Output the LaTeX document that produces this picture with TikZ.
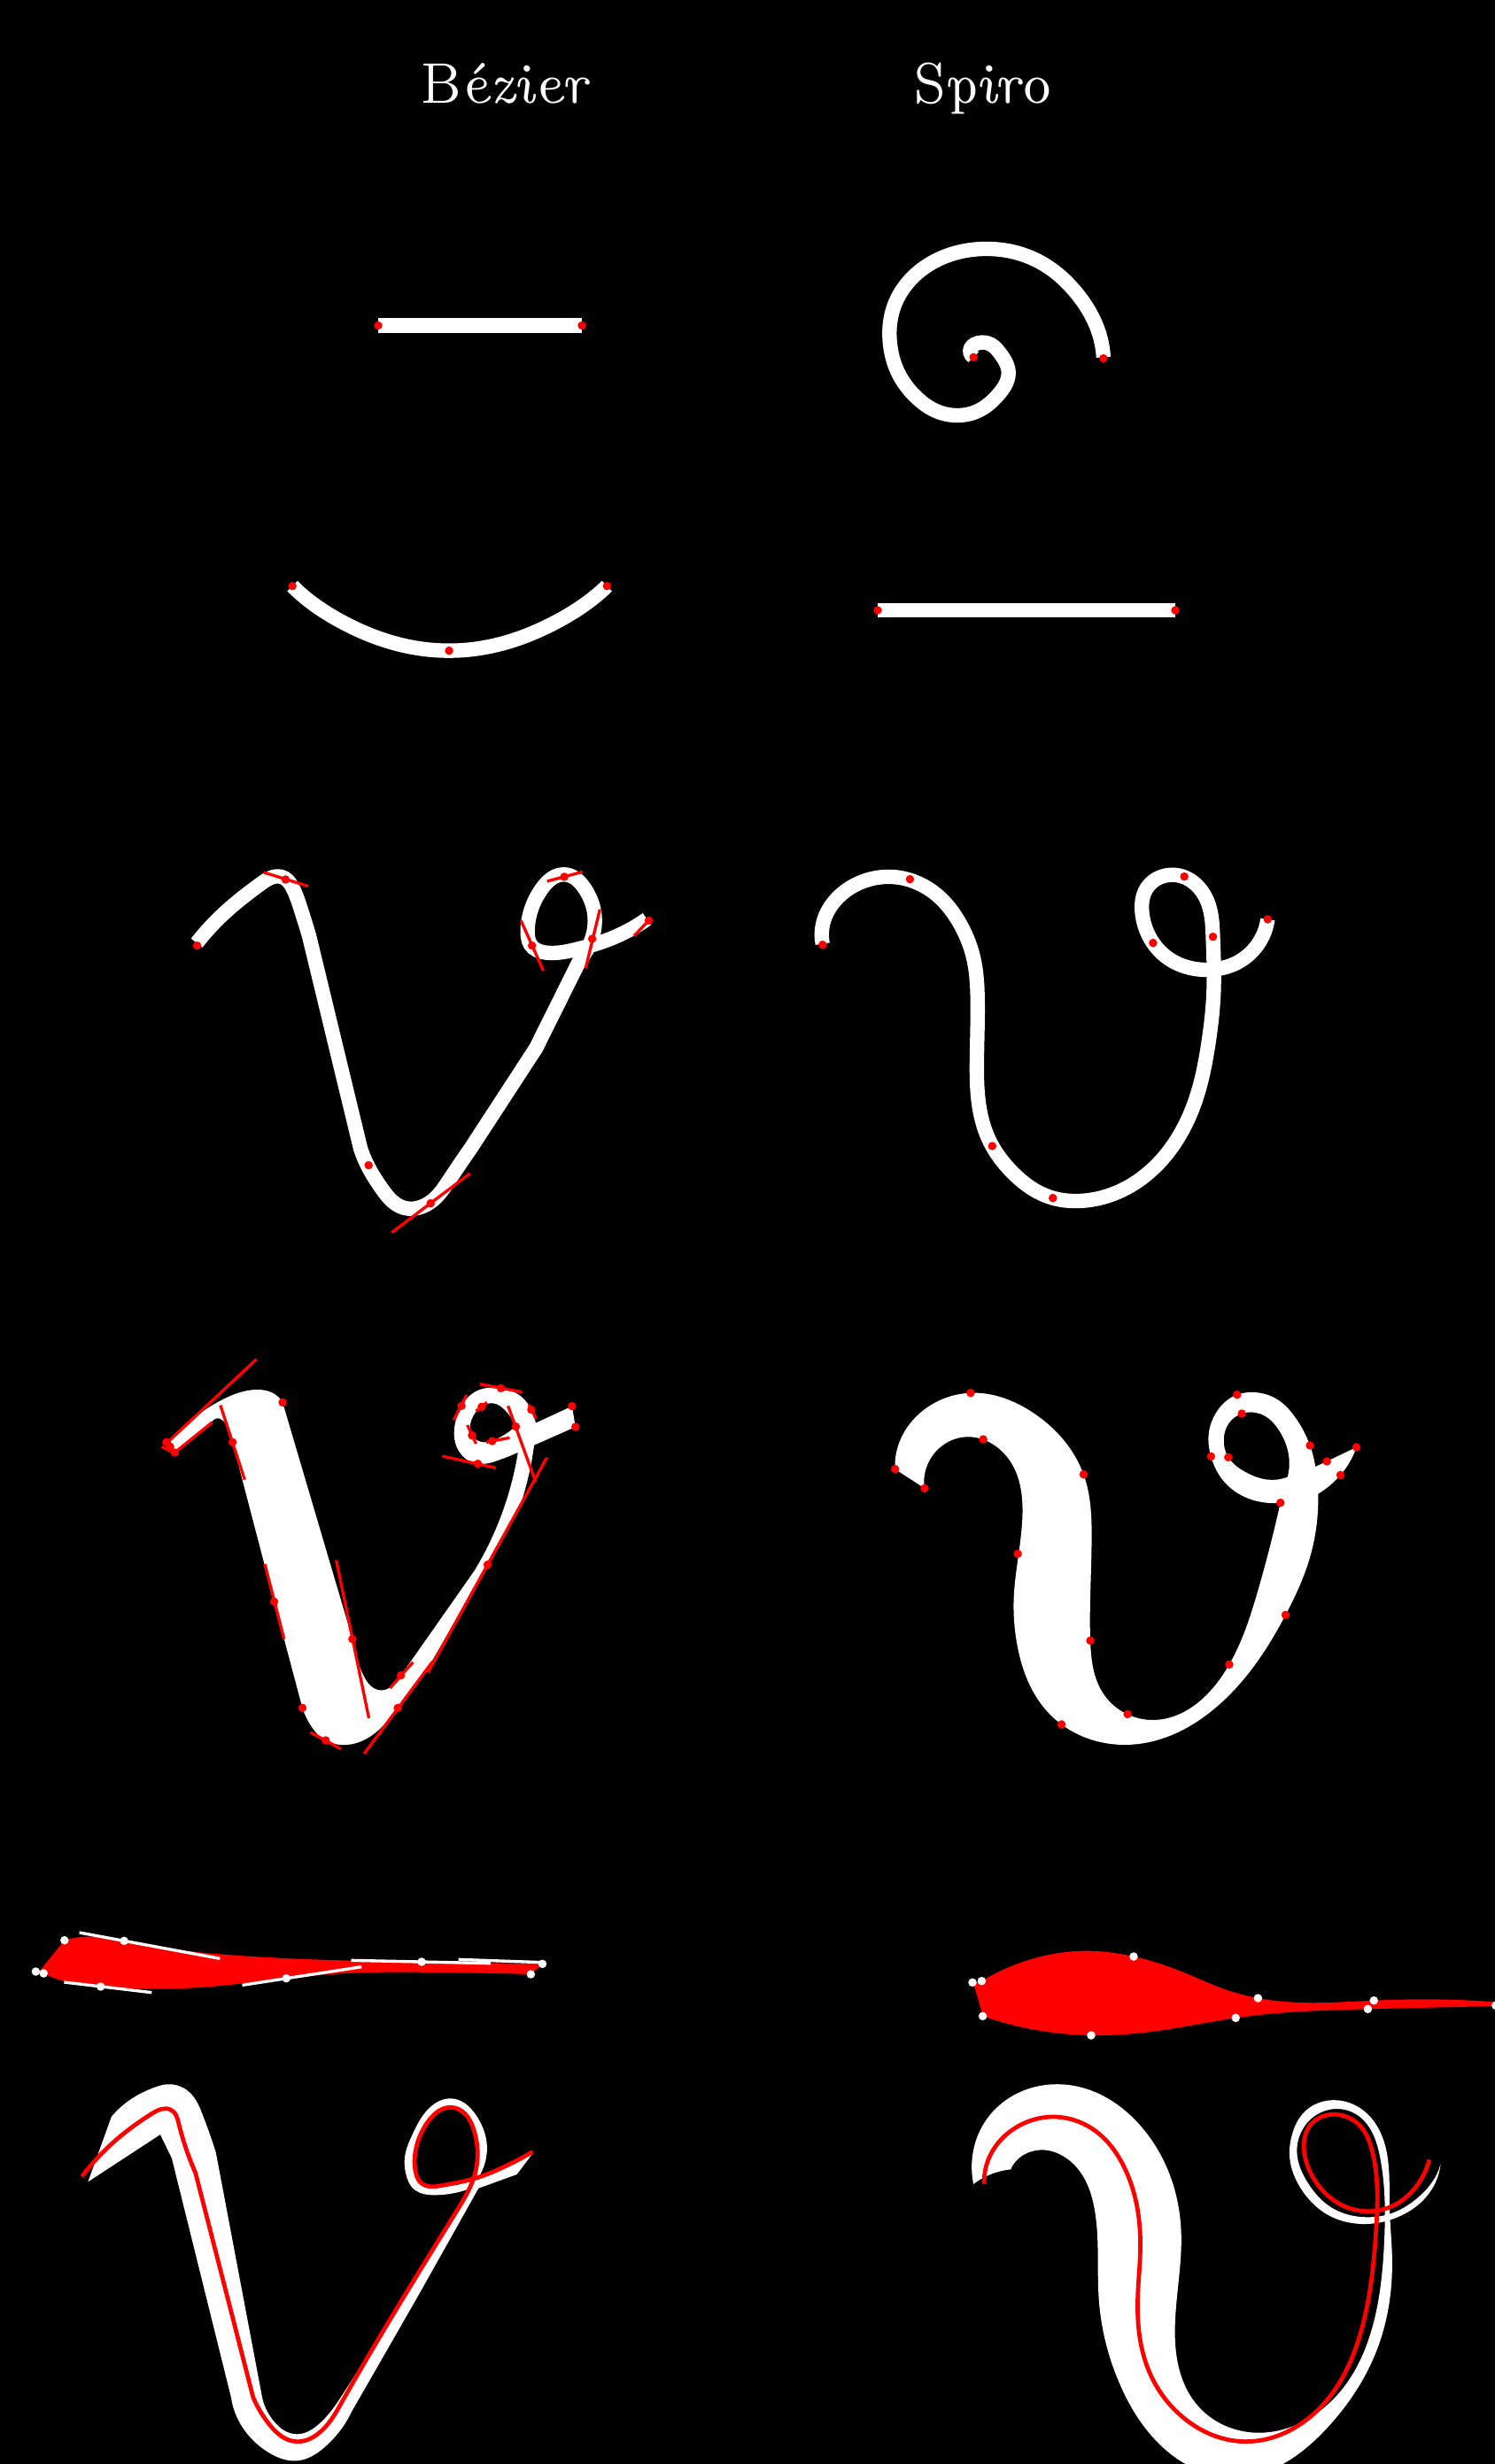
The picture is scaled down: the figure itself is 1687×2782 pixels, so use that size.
\documentclass[tikz,border=0pt]{standalone}
\usepackage{tikz}
\usetikzlibrary{hobby}
\tikzset{
  inkline/.style={draw=white, line width=4.64pt, use Hobby shortcut},
  inkfill/.style={fill=white, even odd rule, use Hobby shortcut},
  knot/.style={circle, fill=red, inner sep=0pt, minimum size=0.095cm},
  whiteknot/.style={circle, fill=white, inner sep=0pt, minimum size=0.095cm},
  handle/.style={draw=red, line width=0.95pt},
  whitehandle/.style={draw=white, line width=0.95pt},
  spine/.style={draw=red, line width=1.35pt, use Hobby shortcut},
  heading/.style={text=white, anchor=base, inner sep=0pt, font=\fontsize{18.4}{22}\fontshape{ui}\selectfont},
}
\begin{document}
\begin{tikzpicture}[x=0.01cm, y=-0.01cm]
    \useasboundingbox (0,0) rectangle (1687,2782);
    \fill[black] (-5,-5) rectangle (1692,2787);

    % headings
    \node[heading] (bezierhead) at (571,117) {B\'ezier};
    \node[heading] (spirohead) at (1110,117) {Spiro};

    % first row: bar and spiral
    \draw[inkline] (427,367.5) -- (657,367.5);
    \foreach \p [count=\i] in {(427,367.5),(657,367.5)}
        \node[knot] (barA\i) at \p {};
    \begin{scope}[shift={(300,40)}, xscale=0.6378, yscale=0.3333]
        \draw[inkline] (1483,1090) .. (1420,840) .. (1278,723) .. (1140,830) .. (1105,1040) .. (1160,1240) .. (1228,1287) .. (1288,1235) .. (1315,1140) .. (1295,1065) .. (1268,1040) .. (1248,1060) .. (1253,1090);
        \foreach \p [count=\i] in {(1483,1094),(1253,1090)}
            \node[knot] (spiral\i) at \p {};
    \end{scope}

    % second row: arc and bar
    \begin{scope}[shift={(300,600)}, xscale=0.7018, yscale=0.3333]
        \draw[inkline] (43,185) .. (140,325) .. (295,404) .. (450,325) .. (549,185);
        \foreach \p [count=\i] in {(43,185),(295,404),(549,185)}
            \node[knot] (arc\i) at \p {};
    \end{scope}
    \draw[inkline] (991,689) -- (1327,689);
    \foreach \p [count=\i] in {(991,689),(1327,689)}
        \node[knot] (barB\i) at \p {};

    % third row left: stroke with handles
    \begin{scope}[shift={(150,920)}, xscale=0.4146, yscale=0.3333]
        \draw[inkline] (174,434) .. (265,315) .. (350,232) .. (405,210) .. (432,240) .. (455,310) .. (480,410) -- (620,1130) .. (640,1190) .. (680,1270) .. (750,1334) .. (800,1320) .. (860,1240) .. (920,1130) -- (1098,790) -- (1218,490) .. (1250,420) .. (1255,320) .. (1225,240) .. (1175,202) .. (1120,240) .. (1085,320) .. (1075,400) .. (1090,450) .. (1140,468) .. (1210,455) .. (1290,425) .. (1400,353);
        \foreach \xa/\ya/\xb/\yb in {357/195/478/242,705/1415/918/1215,1057/358/1118/528,1128/225/1225/193,1272/320/1233/520,1365/410/1405/358}
            \draw[handle] (\xa,\ya) -- (\xb,\yb);
        \foreach \p [count=\i] in {(175,443),(416,219),(642,1187),(811,1316),(1251,420),(1087,443),(1175,210),(1405,358)}
            \node[knot] (lineA\i) at \p {};
    \end{scope}

    % third row right: stroke with knots
    \begin{scope}[shift={(850,920)}, xscale=0.4146, yscale=0.3333]
        \draw[inkline] (190,437) .. (250,260) .. (378,210) .. (500,270) .. (560,360) .. (600,480) .. (612,620) .. (610,840) .. (652,1122) .. (710,1215) .. (817,1298) .. (890,1308) .. (980,1285) .. (1080,1210) .. (1160,1090) .. (1210,950) .. (1240,780) .. (1255,600) .. (1253,413) .. (1245,320) .. (1210,240) .. (1153,204) .. (1090,225) .. (1060,330) .. (1090,434) .. (1150,500) .. (1235,525) .. (1320,500) .. (1380,430) .. (1402,354);
        \foreach \p [count=\i] in {(190,440),(428,218),(652,1122),(817,1298),(1253,413),(1090,434),(1175,209),(1402,354)}
            \node[knot] (lineB\i) at \p {};
    \end{scope}

    % fourth row left: outline with handles
    \begin{scope}[shift={(150,1500)}, xscale=0.3507, yscale=0.3333]
        \fill[inkfill] (120,378) .. (200,300) .. (290,240) .. (400,207) .. (450,218) .. (482,250) -- (707,1052) .. (740,1170) .. (795,1225) .. (830,1215) .. (863,1175) .. (900,1120) -- (1100,820) .. (1180,650) .. (1220,520) .. (1240,420)
            -- (1240,420) .. (1180,445) .. (1110,458) .. (1060,430) .. (1035,370) .. (1040,310) .. (1058,262) .. (1110,210) .. (1185,202) .. (1250,230) .. (1283,275) .. (1297,320)
            -- (1414,263) -- (1425,333) -- (1292,395)
            .. (1280,470) .. (1250,590) -- (1142,800) -- (950,1150) .. (853,1285) .. (780,1370) .. (690,1410) .. (621,1395) .. (570,1340) .. (546,1285) -- (455,925) -- (321,385) .. (300,325) .. (280,305) .. (255,315) -- (135,420) -- cycle
            (1232,332) .. (1169,375) .. (1130,385) .. (1092,363) .. (1090,310) .. (1121,265) .. (1160,253) .. (1197,275) .. (1232,332) -- cycle;
        \foreach \xa/\ya/\xb/\yb in {115/382/398/104,93/400/135/422,135/420/255/318,282/260/360/512,425/798/487/1052,655/785/760/1320,572/1368/670/1424,745/1440/965/1128,828/1218/902/1130,950/1165/1333/437,1208/262/1297/520,1117/188/1252/215,1033/310/1075/225,1105/280/1140/250,1077/327/1105/390,1137/385/1213/370,996/432/1168/472,1275/258/1298/305}
            \draw[handle] (\xa,\ya) -- (\xb,\yb);
        \foreach \p [count=\i] in {(108,385),(120,400),(135,420),(482,250),(321,385),(455,925),(546,1285),(621,1395),(707,1052),(863,1175),(853,1285),(1142,800),(1233,332),(1058,262),(1123,265),(1185,202),(1283,275),(1092,362),(1157,381),(1111,458),(1414,263),(1425,333)}
            \node[knot] (shapeA\i) at \p {};
    \end{scope}

    % fourth row right: outline with knots
    \begin{scope}[shift={(980,1530)}, xscale=0.3827, yscale=0.3333]
        \fill[inkfill] (80,386) .. (160,190) .. (303,128) .. (480,190) .. (636,404) .. (660,620) .. (656,967) .. (710,1170) .. (840,1236) .. (1000,1150) .. (1066,1048) .. (1150,800) .. (1217,500)
            -- (1217,500) .. (1060,440) .. (1012,343) .. (1005,270) .. (1030,190) .. (1089,134) .. (1140,126) .. (1200,145) .. (1260,210) .. (1304,306) .. (1320,378)
            -- (1354,360) -- (1441,312)
            .. (1394,406) .. (1328,470) -- (1328,470)
            .. (1300,700) .. (1232,880) .. (1040,1180) .. (760,1320) .. (571,1251) .. (440,980) .. (430,830) .. (456,520) .. (390,320) .. (290,277) .. (180,360) .. (167,451) -- cycle
            (1238,413) .. (1180,422) .. (1120,400) .. (1063,346) .. (1050,280) .. (1065,230) .. (1103,198) .. (1160,200) .. (1210,250) .. (1240,330) .. (1238,413) -- cycle;
        \foreach \p [count=\i] in {(80,386),(167,451),(303,128),(340,285),(636,404),(442,673),(656,967),(571,1251),(766,1216),(1066,1048),(1232,880),(1217,500),(1012,343),(1063,346),(1089,134),(1103,198),(1304,306),(1354,360),(1441,312),(1394,406)}
            \node[knot] (shapeB\i) at \p {};
    \end{scope}

    % fifth row left: red band with white handles
    \begin{scope}[shift={(0,2150)}, xscale=0.4209, yscale=0.3333]
        \fill[red, use Hobby shortcut] (105,228) -- (173,122) .. (230,110) .. (333,124) .. (450,150) .. (600,170) .. (800,185) .. (1130,195) .. (1455,202)
            -- (1424,237) .. (1100,230) .. (960,232) .. (768,251) .. (600,275) .. (400,287) .. (270,279) .. (170,260) .. (117,234) -- cycle;
        \foreach \xa/\ya/\xb/\yb in {213/96/590/184,172/264/407/299,650/274/970/212,942/190/1316/200,1230/187/1455/197}
            \draw[whitehandle] (\xa,\ya) -- (\xb,\yb);
        \foreach \p [count=\i] in {(96,228),(117,234),(173,122),(333,124),(270,279),(768,251),(1131,195),(1455,202),(1424,237)}
            \node[whiteknot] (bandA\i) at \p {};
    \end{scope}

    % fifth row right: red band with white knots
    \begin{scope}[shift={(1060,2170)}, xscale=0.4, yscale=0.3333]
        \fill[red, use Hobby shortcut] (97,205) -- (121,200) .. (250,130) .. (410,98) .. (550,117) .. (700,175) .. (800,225) .. (901,258) .. (1000,272) .. (1228,266) .. (1350,262) .. (1580,272)
            -- (1580,285) .. (1211,295) .. (1000,305) .. (838,325) .. (640,365) .. (430,384) .. (270,365) .. (125,319) -- cycle;
        \foreach \p [count=\i] in {(95,205),(121,200),(124,319),(430,384),(550,117),(838,325),(901,258),(1211,295),(1228,266),(1572,283)}
            \node[whiteknot] (bandB\i) at \p {};
    \end{scope}

    % sixth row left: outline with red spine
    \begin{scope}[shift={(60,2330)}, xscale=0.3827, yscale=0.3333]
        \fill[inkfill] (103,400) -- (172,180) .. (230,120) .. (300,80) .. (335,70) .. (395,90) .. (440,170) .. (480,300) -- (615,1120) .. (650,1210) .. (720,1255) .. (780,1225) .. (860,1110) .. (1225,425)
            -- (1225,425) .. (1130,445) .. (1070,430) .. (1040,370) .. (1037,320) .. (1060,240) .. (1110,150) .. (1175,118) .. (1245,170) .. (1280,280) .. (1270,350) .. (1258,380)
            -- (1330,345) -- (1414,305) -- (1368,375) -- (1255,422)
            -- (1075,790) -- (880,1180) .. (800,1300) .. (720,1345) .. (640,1320) .. (570,1250) .. (525,1130) -- (350,320) -- (316,240) -- cycle
            (1175,150) .. (1110,190) .. (1072,280) .. (1070,370) .. (1090,408) .. (1150,415) .. (1225,395) .. (1250,330) .. (1250,260) .. (1225,190) .. (1175,150) -- cycle;
        \draw[spine] (85,382) .. (210,235) .. (290,170) .. (345,155) .. (370,200) .. (420,370) -- (590,1130) .. (640,1225) .. (718,1280) .. (780,1255) .. (850,1150) .. (1190,500) .. (1240,390) .. (1252,320) .. (1240,220) .. (1175,148) .. (1110,190) .. (1072,280) .. (1070,370) .. (1090,408) .. (1150,412) .. (1240,390) .. (1320,355) .. (1415,298);
    \end{scope}

    % sixth row right: outline with red spine
    \begin{scope}[shift={(1080,2330)}, xscale=0.3827, yscale=0.3333]
        \fill[fill=white, use Hobby shortcut] (50,408) .. (45,340) .. (150,120) .. (310,70) .. (550,220) .. (663,580) .. (645,940) .. (740,1190) .. (880,1250) .. (1090,1160) .. (1225,900) .. (1262,600) .. (1250,320) .. (1225,230) .. (1190,180) .. (1125,153) .. (1075,165) .. (1025,215) .. (1005,310) .. (1040,410) .. (1110,490) .. (1210,520) .. (1275,510) .. (1360,455) .. (1418,372) .. (1428,340)
            -- (1428,340) .. (1370,470) .. (1290,525) .. (1210,543) .. (1100,515) .. (1020,430) .. (983,320) .. (990,240) .. (1040,150) .. (1125,124) .. (1190,150) .. (1245,220) .. (1275,350) .. (1278,500) .. (1285,650) .. (1240,970) .. (1080,1250) .. (830,1400) .. (500,1130) .. (420,800) .. (405,480) .. (310,310) .. (265,293) .. (160,358)
            -- (160,358) .. (100,375) .. (50,408) -- cycle;
        \draw[spine] (82,408) .. (170,220) .. (285,180) .. (400,220) .. (490,340) .. (535,500) .. (542,640) .. (535,780) .. (575,1060) .. (660,1190) .. (850,1280) .. (1050,1190) .. (1130,1080) .. (1190,920) .. (1238,560) .. (1225,290) .. (1190,210) .. (1120,172) .. (1055,195) .. (1025,290) .. (1060,400) .. (1130,475) .. (1210,500) .. (1290,480) .. (1360,410) .. (1395,325);
    \end{scope}
\end{tikzpicture}
\end{document}
